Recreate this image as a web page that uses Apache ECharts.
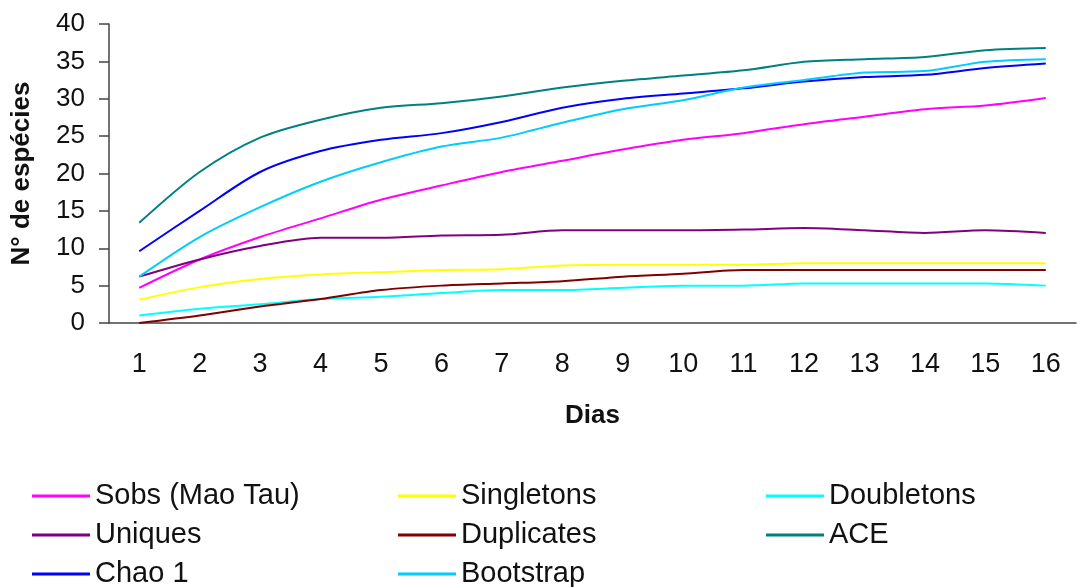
<!DOCTYPE html>
<html>
<head>
<meta charset="utf-8">
<script src="https://cdn.jsdelivr.net/npm/echarts@6/dist/echarts.min.js"></script>
<style>
  html, body { margin: 0; padding: 0; background: #fff; }
  #chart { width: 1078px; height: 587px; }
</style>
</head>
<body>
<div id="chart"></div>
<script>
var days = ['1', '2', '3', '4', '5', '6', '7', '8', '9', '10', '11', '12', '13', '14', '15', '16'];
var yTicks = [0, 5, 10, 15, 20, 25, 30, 35, 40];

var sobs = [4.7, 8.5, 11.5, 14.0, 16.5, 18.4, 20.2, 21.7, 23.2, 24.5, 25.4, 26.6, 27.6, 28.6, 29.1, 30.1];
var singletons = [3.1, 4.8, 5.9, 6.5, 6.8, 7.1, 7.2, 7.7, 7.8, 7.8, 7.8, 8.0, 8.0, 8.0, 8.0, 8.0];
var doubletons = [1.0, 1.9, 2.5, 3.2, 3.5, 4.0, 4.4, 4.4, 4.7, 5.0, 5.0, 5.3, 5.3, 5.3, 5.3, 5.0];
var uniques = [6.2, 8.5, 10.3, 11.4, 11.4, 11.7, 11.8, 12.4, 12.4, 12.4, 12.5, 12.7, 12.4, 12.05, 12.4, 12.05];
var duplicates = [0, 1.0, 2.2, 3.2, 4.4, 5.0, 5.3, 5.6, 6.2, 6.6, 7.1, 7.1, 7.1, 7.1, 7.1, 7.1];
var ace = [13.4, 20.2, 24.8, 27.2, 28.8, 29.4, 30.3, 31.5, 32.4, 33.1, 33.8, 34.95, 35.3, 35.6, 36.5, 36.8];
var chao1 = [9.6, 15.0, 20.2, 23.0, 24.5, 25.4, 26.9, 28.8, 30.0, 30.7, 31.4, 32.3, 32.9, 33.2, 34.1, 34.7];
var bootstrap = [6.2, 11.5, 15.5, 18.9, 21.5, 23.6, 24.8, 26.8, 28.6, 29.8, 31.5, 32.5, 33.5, 33.7, 34.95, 35.3];

var font = '"Liberation Sans", Arial, sans-serif';

function line(name, data, color) {
  return {
    name: name,
    type: 'line',
    data: data,
    smooth: 0.3,
    symbol: 'none',
    lineStyle: { color: color, width: 2 },
    itemStyle: { color: color }
  };
}

// one legend per column, so the three columns line up like the original
function legendCol(left, names) {
  return {
    orient: 'vertical',
    left: left,
    top: 481,
    height: 140,
    padding: 0,
    itemGap: 9,
    itemWidth: 58,
    itemHeight: 3,
    icon: 'rect',
    data: names,
    textStyle: { fontFamily: font, fontSize: 29, color: '#111', lineHeight: 30 }
  };
}

var chart = echarts.init(document.getElementById('chart'));
chart.setOption({
  animation: false,
  backgroundColor: '#fff',
  grid: { left: 109, right: 2, top: 24, bottom: 264 },
  legend: [
    legendCol(32, ['Sobs (Mao Tau)', 'Uniques', 'Chao 1']),
    legendCol(398, ['Singletons', 'Duplicates', 'Bootstrap']),
    legendCol(766, ['Doubletons', 'ACE'])
  ],
  xAxis: {
    type: 'category',
    data: days,
    boundaryGap: true,
    name: 'Dias',
    nameLocation: 'middle',
    nameGap: 80,
    nameTextStyle: { fontFamily: font, fontSize: 26, fontWeight: 'bold', color: '#111', verticalAlign: 'top' },
    axisLine: { lineStyle: { color: '#444', width: 1.5 } },
    axisTick: { length: 9, lineStyle: { color: '#444', width: 1.5 } },
    axisLabel: { margin: 28, fontFamily: font, fontSize: 27, color: '#111', interval: 0 }
  },
  yAxis: {
    type: 'value',
    min: yTicks[0],
    max: yTicks[yTicks.length - 1],
    interval: 5,
    name: 'N° de espécies',
    nameLocation: 'middle',
    nameGap: 74,
    nameTextStyle: { fontFamily: font, fontSize: 26, fontWeight: 'bold', color: '#111' },
    splitLine: { show: false },
    axisLine: { show: true, lineStyle: { color: '#444', width: 1.5 } },
    axisTick: { show: true, length: 10, lineStyle: { color: '#444', width: 1.5 } },
    axisLabel: { margin: 24, fontFamily: font, fontSize: 26, color: '#111' }
  },
  series: [
    line('Sobs (Mao Tau)', sobs, '#ff00ff'),
    line('Singletons', singletons, '#ffff00'),
    line('Doubletons', doubletons, '#00ffff'),
    line('Uniques', uniques, '#800080'),
    line('Duplicates', duplicates, '#800000'),
    line('ACE', ace, '#008080'),
    line('Chao 1', chao1, '#0000ff'),
    line('Bootstrap', bootstrap, '#00ccff')
  ]
});
</script>
</body>
</html>
